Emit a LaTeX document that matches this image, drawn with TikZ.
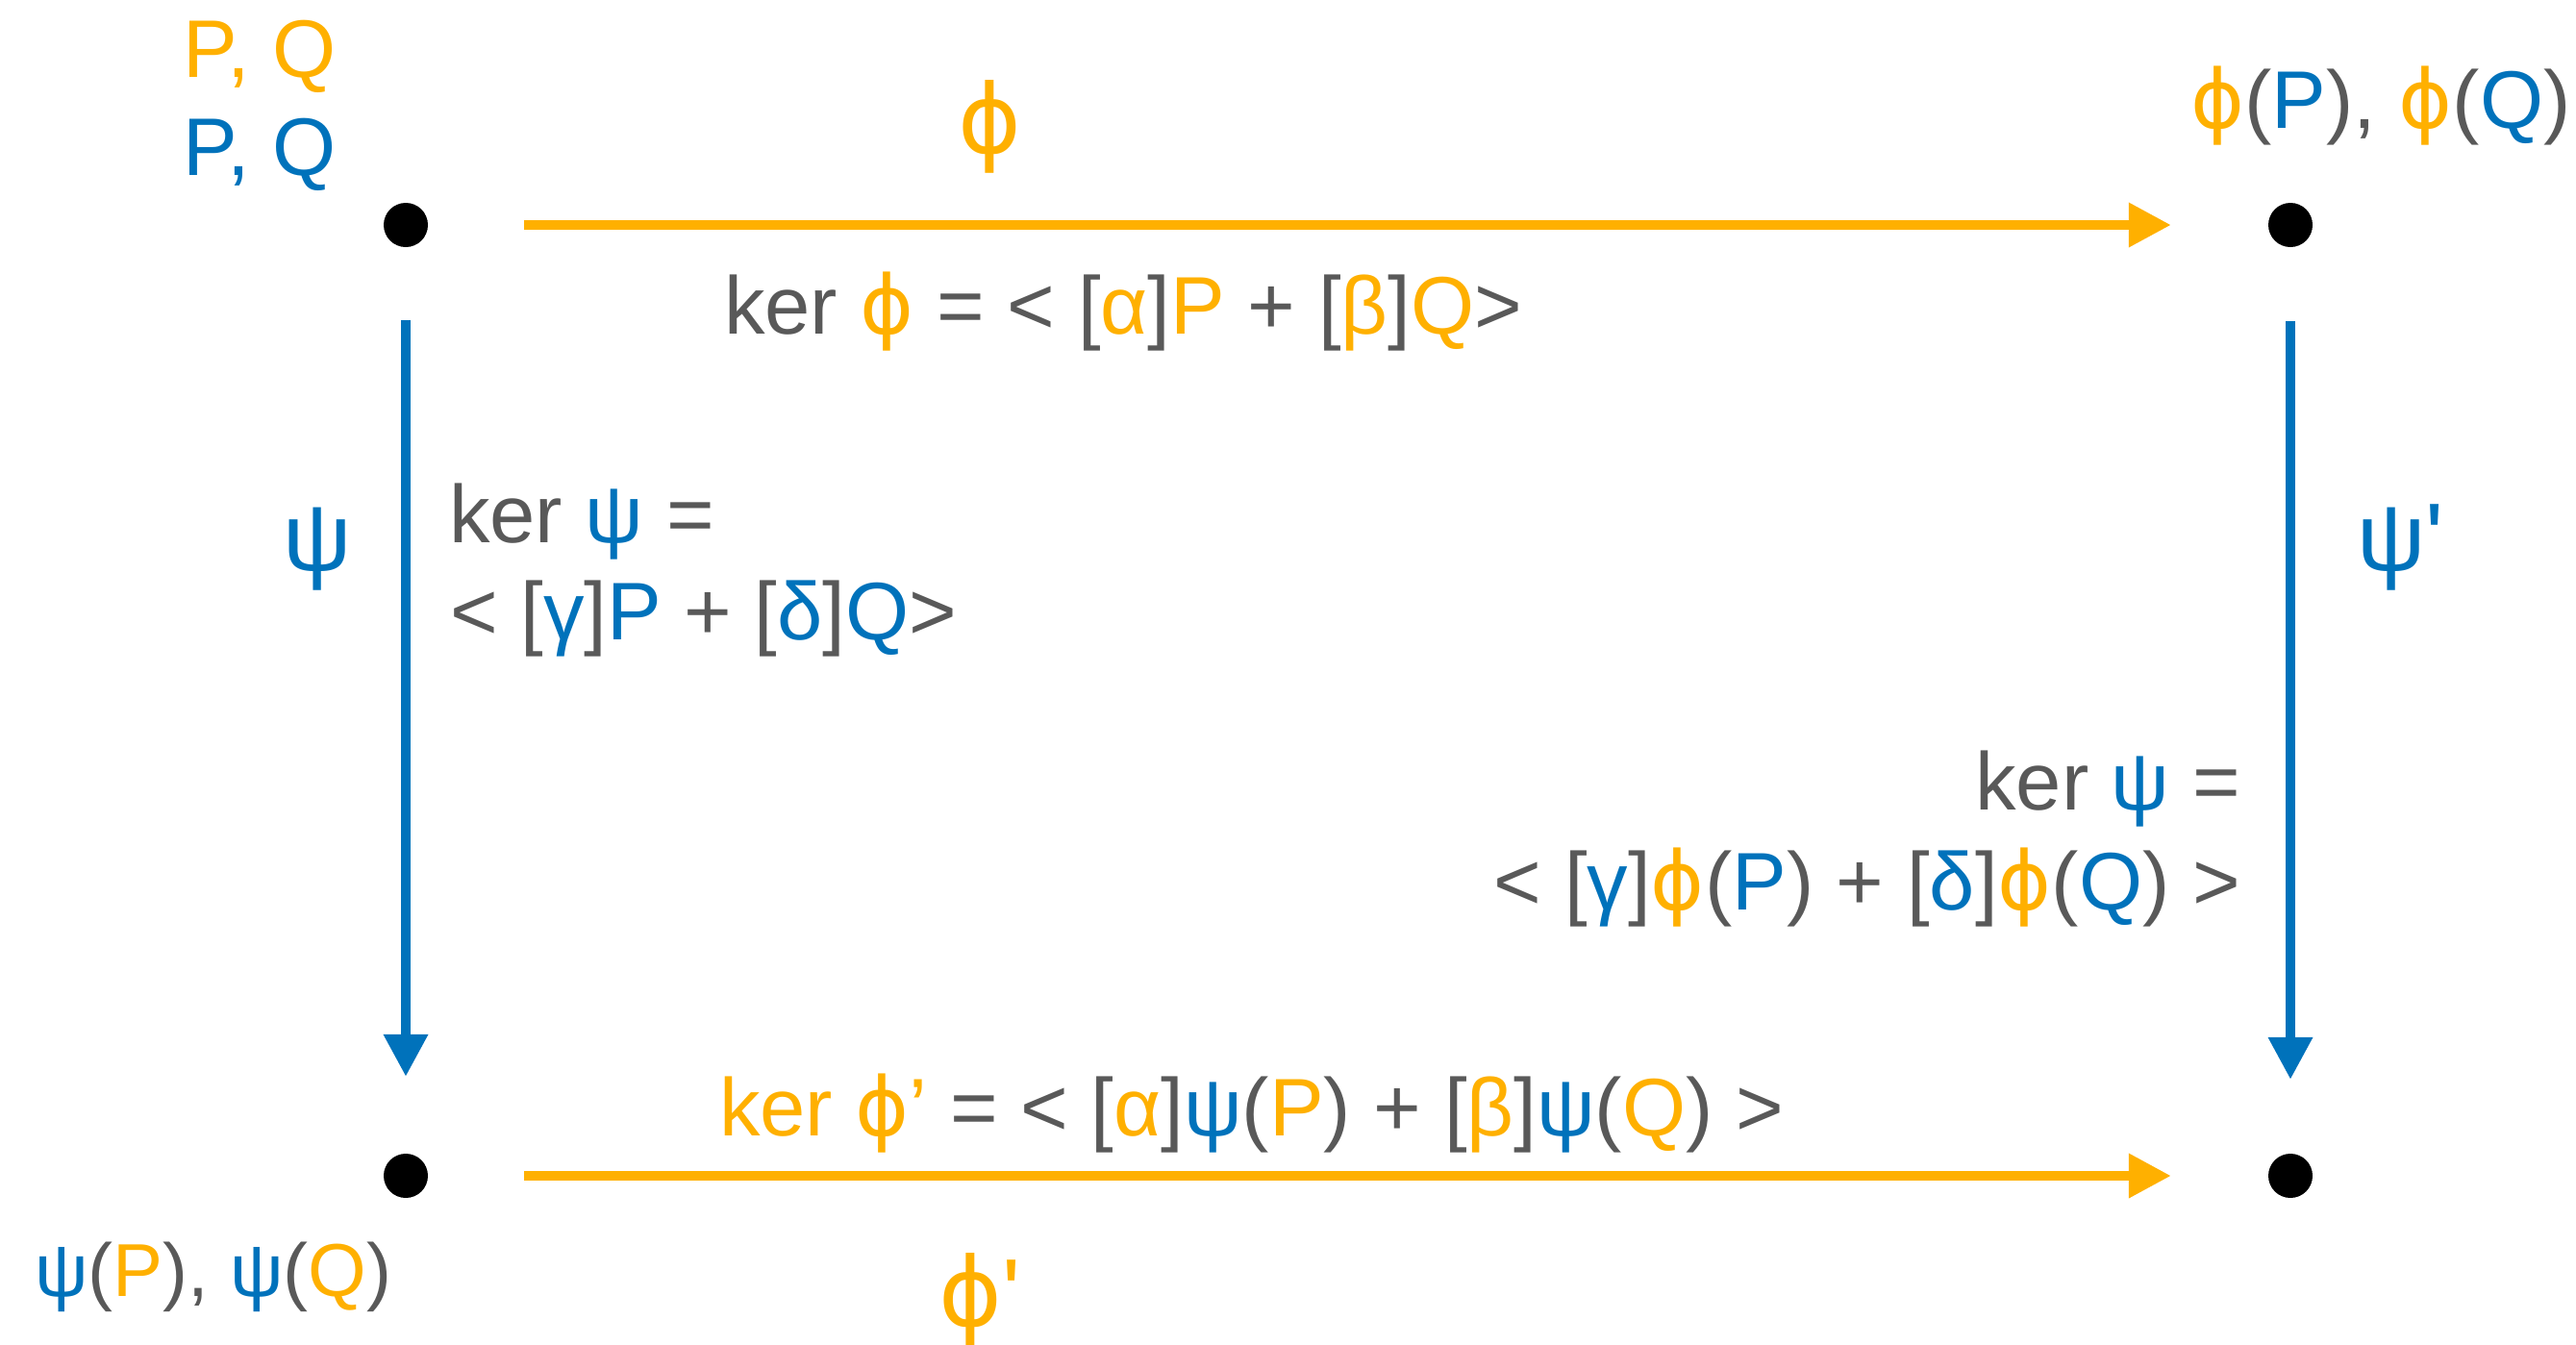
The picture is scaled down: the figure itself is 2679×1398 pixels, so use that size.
\documentclass[tikz,border=0pt]{standalone}
\usepackage{fontspec}
\setmainfont{Liberation Sans}[Ligatures=TeXOff]
\newfontfamily\dvfont{DejaVu Sans}
\usetikzlibrary{arrows.meta}
\definecolor{org}{RGB}{255,176,0}
\definecolor{blu}{RGB}{0,114,187}
\definecolor{gry}{RGB}{89,89,89}
\newcommand{\orng}[1]{\textcolor{org}{#1}}
\newcommand{\blu}[1]{\textcolor{blu}{#1}}
\newcommand{\gry}[1]{\textcolor{gry}{#1}}
\newcommand{\ph}{{\dvfont ϕ}}
\tikzset{
  dot/.style={circle, fill=black, minimum size=46pt, inner sep=0pt},
  txt/.style={inner sep=0pt, font=\fontsize{85}{101}\selectfont},
  big/.style={inner sep=0pt, font=\fontsize{100}{120}\selectfont},
  sml/.style={inner sep=0pt, font=\fontsize{78}{94}\selectfont},
  oarr/.style={draw=org, line width=10pt, -{Triangle[length=44pt,width=44pt]}},
  barr/.style={draw=blu, line width=10pt, -{Triangle[length=44pt,width=44pt]}}
}
\begin{document}
\begin{tikzpicture}[x=1pt,y=-1pt]
\useasboundingbox (0,0) rectangle (2679,1398);
% dots
\node[dot] (tl) at (422,234) {};
\node[dot] (tr) at (2382,234) {};
\node[dot] (bl) at (422,1223) {};
\node[dot] (br) at (2382,1223) {};
% arrows
\draw[oarr, shorten <=100pt, shorten >=101pt] (tl) -- (tr);
\draw[oarr, shorten <=100pt, shorten >=101pt] (bl) -- (br);
\draw[barr, shorten <=76pt, shorten >=80pt] (tl) -- (bl);
\draw[barr, shorten <=77pt, shorten >=77pt] (tr) -- (br);
% texts
\node[txt, anchor=base west] (pq1) at (190,80) {\orng{P, Q}};
\node[txt, anchor=base west] (pq2) at (190,182) {\blu{P, Q}};
\node[big, anchor=base] (phi) at (1029,159) {\orng{\ph}};
\node[txt, anchor=base west] (kerphi) at (753,347) {\gry{ker} \orng{\ph} \gry{=} \gry{<} \gry{[}\orng{α}\gry{]}\orng{P} \gry{+} \gry{[}\orng{β}\gry{]}\orng{Q}\gry{>}};
\node[txt, anchor=base west] (phipq) at (2278,133) {\orng{\ph}\gry{(}\blu{P}\gry{),} \orng{\ph}\gry{(}\blu{Q}\gry{)}};
\node[big, anchor=base] (psi) at (330,593) {\blu{ψ}};
\node[txt, anchor=base west] (kerpsiA) at (467,564) {\gry{ker} \blu{ψ} \gry{=}};
\node[txt, anchor=base west] (kerpsiB) at (468,665) {\gry{<} \gry{[}\blu{γ}\gry{]}\blu{P} \gry{+} \gry{[}\blu{δ}\gry{]}\blu{Q}\gry{>}};
\node[big, anchor=base west] (psip) at (2451,593) {\blu{ψ'}};
\node[txt, anchor=base east] (kerpsiC) at (2330,842) {\gry{ker} \blu{ψ} \gry{=}};
\node[txt, anchor=base east] (kerpsiD) at (2330,946) {\gry{<} \gry{[}\blu{γ}\gry{]}\orng{\ph}\gry{(}\blu{P}\gry{)} \gry{+} \gry{[}\blu{δ}\gry{]}\orng{\ph}\gry{(}\blu{Q}\gry{)} \gry{>}};
\node[txt, anchor=base west] (kerphip) at (748,1181) {\orng{ker \ph’} \gry{=} \gry{<} \gry{[}\orng{α}\gry{]}\blu{ψ}\gry{(}\orng{P}\gry{)} \gry{+} \gry{[}\orng{β}\gry{]}\blu{ψ}\gry{(}\orng{Q}\gry{)} \gry{>}};
\node[big, anchor=base west] (phip) at (976,1379) {\orng{\ph'}};
\node[sml, anchor=base west] (psipq) at (36,1348) {\blu{ψ}\gry{(}\orng{P}\gry{),} \blu{ψ}\gry{(}\orng{Q}\gry{)}};
\end{tikzpicture}
\end{document}
